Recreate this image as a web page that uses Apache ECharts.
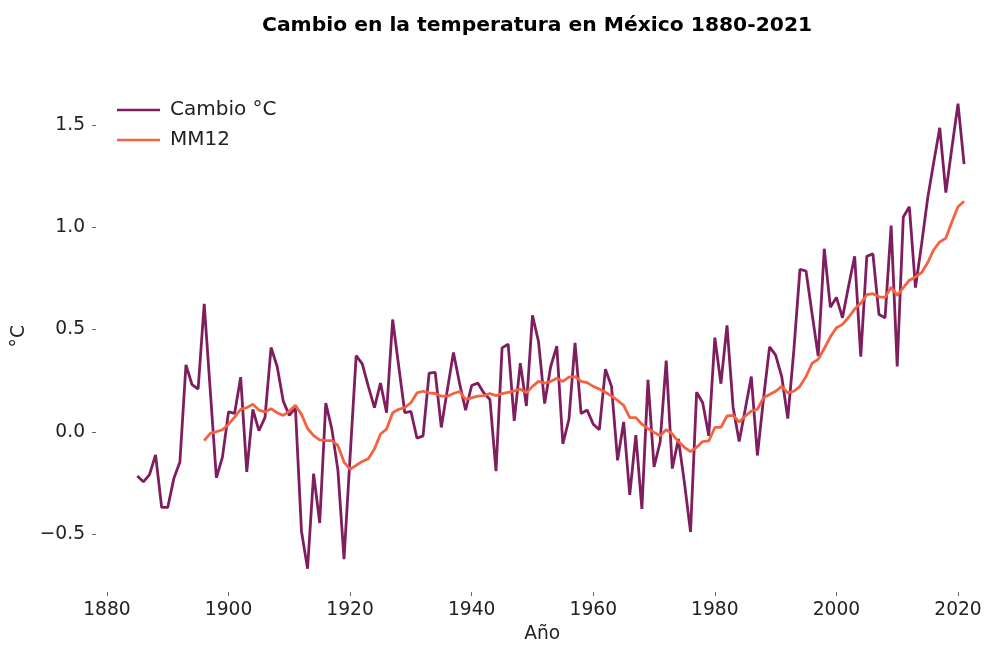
<!DOCTYPE html>
<html lang="es">
<head>
    <meta charset="UTF-8">
    <title>Cambio en la temperatura en México</title>
    <script src="https://cdn.jsdelivr.net/npm/echarts@6/dist/echarts.min.js"></script>
</head>
<body style="margin:0;background:#fff;">
<div id="grafica" style="width:996px;height:649px;"></div>
<script type="text/javascript">
    // años y anomalías
    var primerAnio = 1885;
    var cambio = [
        -0.216, -0.245, -0.21, -0.113, -0.37, -0.37, -0.229, -0.148, 0.327, 0.23,
        0.209, 0.625, 0.2, -0.225, -0.124, 0.097, 0.09, 0.267, -0.196, 0.11,
        0.005, 0.07, 0.412, 0.319, 0.15, 0.08, 0.117, -0.486, -0.67, -0.205,
        -0.446, 0.14, 0.013, -0.19, -0.623, -0.12, 0.372, 0.332, 0.222, 0.118,
        0.238, 0.093, 0.549, 0.32, 0.093, 0.10, -0.032, -0.02, 0.287, 0.29,
        0.021, 0.206, 0.388, 0.238, 0.105, 0.226, 0.238, 0.19, 0.158, -0.193,
        0.41, 0.428, 0.053, 0.335, 0.126, 0.569, 0.44, 0.138, 0.319, 0.419,
        -0.06, 0.061, 0.435, 0.089, 0.106, 0.037, 0.01, 0.306, 0.222, -0.14,
        0.048, -0.309, -0.016, -0.377, 0.254, -0.172, -0.05, 0.348, -0.18, -0.035,
        -0.25, -0.49, 0.193, 0.142, -0.02, 0.46, 0.235, 0.52, 0.12, -0.048,
        0.11, 0.27, -0.116, 0.16, 0.415, 0.375, 0.27, 0.064, 0.4, 0.794,
        0.786, 0.576, 0.37, 0.895, 0.609, 0.657, 0.557, 0.713, 0.858, 0.367,
        0.858, 0.87, 0.573, 0.557, 1.008, 0.319, 1.05, 1.1, 0.705, 0.915,
        1.14, 1.317, 1.486, 1.169, 1.39, 1.604, 1.309
    ];
    // media móvil de 12 años, empieza en 1896
    var primerAnioMM = 1896;
    var mm12 = [
        -0.043, -0.008, 0.0, 0.01, 0.037, 0.072, 0.11, 0.118, 0.134, 0.106,
        0.097, 0.113, 0.093, 0.08, 0.101, 0.129, 0.085, 0.016, -0.019, -0.04,
        -0.043, -0.043, -0.068, -0.148, -0.184, -0.164, -0.145, -0.132, -0.084, -0.011,
        0.013, 0.093, 0.11, 0.118, 0.142, 0.19, 0.198, 0.19, 0.187, 0.174,
        0.174, 0.187, 0.197, 0.158, 0.166, 0.174, 0.177, 0.187, 0.177, 0.187,
        0.193, 0.2, 0.208, 0.19, 0.222, 0.246, 0.238, 0.246, 0.262, 0.246,
        0.267, 0.27, 0.246, 0.24, 0.222, 0.209, 0.193, 0.174, 0.153, 0.129,
        0.069, 0.069, 0.037, 0.016, -0.003, -0.019, 0.01, -0.011, -0.048, -0.076,
        -0.097, -0.076, -0.048, -0.045, 0.021, 0.021, 0.077, 0.08, 0.048, 0.077,
        0.101, 0.11, 0.166, 0.182, 0.198, 0.222, 0.19, 0.198, 0.222, 0.27,
        0.335, 0.354, 0.407, 0.464, 0.509, 0.525, 0.56, 0.6, 0.628, 0.67,
        0.675, 0.66, 0.657, 0.707, 0.667, 0.705, 0.741, 0.757, 0.778, 0.826,
        0.89, 0.928, 0.947, 1.027, 1.1, 1.127
    ];
    var ticksX = [1880, 1900, 1920, 1940, 1960, 1980, 2000, 2020];
    var ticksY = [-0.5, 0.0, 0.5, 1.0, 1.5];

    var colores = ['#7e1e5f', '#f4623f'];

    function pares(inicio, valores) {
        var out = [];
        for (var i = 0; i < valores.length; i++) {
            out.push([inicio + i, valores[i]]);
        }
        return out;
    }

    var myChart = echarts.init(document.getElementById('grafica'));
    var fuente = 'DejaVu Sans';

    var option = {
        animation: false,
        color: colores,
        textStyle: {fontFamily: fuente},
        title: {
            text: 'Cambio en la temperatura en México 1880-2021',
            left: 257,
            top: 11,
            textStyle: {fontFamily: fuente, fontSize: 20.3, fontWeight: 'bold', color: '#000'}
        },
        legend: {
            orient: 'vertical',
            left: 112,
            top: 95,
            icon: 'rect',
            itemWidth: 43,
            itemHeight: 2.5,
            itemGap: 10,
            textStyle: {fontFamily: fuente, fontSize: 20, color: '#222', padding: [0, 0, 0, 5]},
            data: ['Cambio °C', 'MM12']
        },
        grid: {
            left: 96,
            right: 7.6,
            top: 80.4,
            bottom: 50.7,
            containLabel: false
        },
        xAxis: {
            type: 'value',
            min: 1878.2,
            max: 2025,
            name: 'Año',
            nameLocation: 'middle',
            nameGap: 32,
            nameTextStyle: {fontFamily: fuente, fontSize: 18.67, color: '#222'},
            axisLine: {show: false, onZero: false},
            axisTick: {show: true, length: 4, customValues: ticksX, lineStyle: {color: '#666'}},
            axisLabel: {
                customValues: ticksX,
                fontSize: 18.67,
                color: '#222',
                margin: 9,
                formatter: function (v) { return String(v); }
            },
            splitLine: {show: false}
        },
        yAxis: {
            type: 'value',
            min: -0.784,
            max: 1.718,
            name: '°C',
            nameLocation: 'middle',
            nameGap: 60,
            nameRotate: 90,
            nameTextStyle: {fontFamily: fuente, fontSize: 18.67, color: '#222'},
            axisLine: {show: false, onZero: false},
            axisTick: {show: true, length: 4, customValues: ticksY, lineStyle: {color: '#666'}},
            axisLabel: {
                customValues: ticksY,
                fontSize: 18.67,
                color: '#222',
                margin: 11,
                formatter: function (v) {
                    return (v < 0 ? '\u2212' + Math.abs(v).toFixed(1) : v.toFixed(1));
                }
            },
            splitLine: {show: false}
        },
        series: [
            {
                name: 'Cambio °C',
                type: 'line',
                symbol: 'none',
                lineStyle: {width: 2.8, color: colores[0]},
                data: pares(primerAnio, cambio)
            },
            {
                name: 'MM12',
                type: 'line',
                symbol: 'none',
                lineStyle: {width: 2.8, color: colores[1]},
                data: pares(primerAnioMM, mm12)
            }
        ]
    };
    myChart.setOption(option);
</script>
</body>
</html>
